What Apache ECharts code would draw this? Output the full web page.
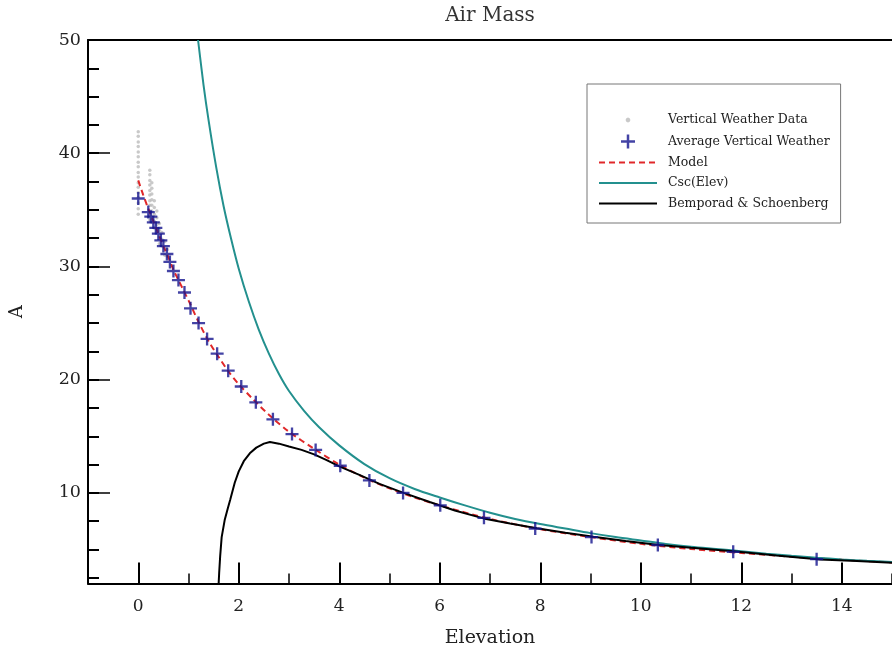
<!DOCTYPE html>
<html>
<head>
<meta charset="utf-8">
<script src="https://cdn.jsdelivr.net/npm/echarts@6/dist/echarts.min.js"></script>
<style>
  html, body { margin: 0; padding: 0; background: #fff; }
  #chart { width: 892px; height: 657px; }
</style>
</head>
<body>
<div id="chart"></div>
<script>
// Individual vertical weather samples (elevation in degrees, air mass A)
const weatherElev = [
  0.0, 0.0, 0.0, 0.0, 0.0, 0.0, 0.0, 0.0, 0.0, 0.0, 0.0, 0.0, 0.0, 0.0, 0.0, 0.0, 0.0,
  0.23, 0.23, 0.23, 0.23, 0.23, 0.23, 0.23, 0.23, 0.23, 0.23, 0.23,
  0.27, 0.27, 0.27, 0.27, 0.27, 0.27, 0.27, 0.27,
  0.32, 0.32, 0.32, 0.32, 0.32,
  0.37, 0.37, 0.37, 0.37,
  0.42, 0.42, 0.42, 0.42,
  0.47, 0.47, 0.47,
  0.53, 0.53, 0.53,
  0.58, 0.58
];
const weatherA = [
  41.9, 41.5, 41.0, 40.6, 40.1, 39.7, 39.2, 38.8, 38.3, 37.9, 37.4, 37.0, 36.5, 36.1, 35.6, 35.1, 34.6,
  38.5, 38.1, 37.6, 37.2, 36.7, 36.3, 35.8, 35.4, 34.9, 34.5, 34.1,
  37.4, 36.9, 36.4, 35.9, 35.4, 34.9, 34.4, 33.9,
  35.8, 35.2, 34.6, 34.0, 33.4,
  34.9, 34.3, 33.7, 33.1,
  33.8, 33.2, 32.6, 32.0,
  33.0, 32.4, 31.8,
  32.2, 31.6, 31.0,
  31.5, 30.9
];

// Binned averages
const avgElev = [0.0, 0.2, 0.25, 0.3, 0.35, 0.4, 0.45, 0.5, 0.57, 0.63, 0.7, 0.8, 0.92, 1.04, 1.2, 1.37, 1.57, 1.79,
  2.05, 2.34, 2.68, 3.06, 3.53, 4.02, 4.6, 5.27, 6.01, 6.88, 7.9, 9.02, 10.34, 11.84, 13.5];
const avgA = [36.0, 34.8, 34.4, 33.9, 33.4, 32.9, 32.3, 31.8, 31.1, 30.4, 29.6, 28.8, 27.7, 26.3, 25.0, 23.6, 22.3, 20.8,
  19.4, 18.0, 16.5, 15.2, 13.8, 12.4, 11.1, 10.0, 8.9, 7.8, 6.85, 6.1, 5.4, 4.8, 4.15];

// Fitted model
const modelElev = [0, 0.1, 0.2, 0.3, 0.4, 0.5, 0.6, 0.7, 0.8, 0.9, 1.0, 1.2, 1.4, 1.6, 1.8, 2.0, 2.3, 2.6, 3.0, 3.5,
  4.0, 4.5, 5.0, 5.5, 6.0, 7.0, 8.0, 9.0, 10.0, 11.0, 12.0, 13.0, 14.0, 15.0];
const modelA = [37.6, 36.3, 35.1, 34.0, 32.9, 31.8, 30.8, 29.7, 28.8, 27.9, 27.0, 25.1, 23.4, 22.0, 20.7, 19.6, 18.2, 16.9, 15.4, 13.9,
  12.5, 11.35, 10.4, 9.6, 8.9, 7.7, 6.8, 6.1, 5.5, 5.05, 4.7, 4.37, 4.1, 3.86];

// Plane-parallel approximation, csc(elevation)
const cscElev = [1.19, 1.3, 1.4, 1.55, 1.7, 1.85, 2.0, 2.2, 2.4, 2.6, 2.8, 3.0, 3.3, 3.6, 4.0, 4.5, 5.0, 5.5, 6.0, 6.5,
  7.0, 7.5, 8.0, 8.5, 9.0, 9.5, 10.0, 10.5, 11.0, 11.5, 12.0, 12.5, 13.0, 13.5, 14.0, 14.5, 15.0];
const cscA = [50.0, 46.0, 42.9, 38.8, 35.3, 32.4, 29.8, 26.9, 24.4, 22.3, 20.5, 19.0, 17.25, 15.8, 14.2, 12.55, 11.3, 10.35, 9.6, 8.9,
  8.25, 7.7, 7.25, 6.85, 6.45, 6.1, 5.8, 5.5, 5.25, 5.05, 4.85, 4.63, 4.45, 4.28, 4.13, 4.0, 3.9];

// Bemporad & Schoenberg formula
const bsElev = [1.6, 1.61, 1.63, 1.66, 1.72, 1.78, 1.83, 1.92, 2.0, 2.1, 2.22, 2.35, 2.5, 2.62, 2.8, 3.0, 3.25, 3.5, 3.75,
  4.0, 4.4, 4.8, 5.28, 5.8, 6.3, 6.87, 7.4, 7.93, 8.5, 9.06, 9.7, 10.32, 11.0, 11.84, 12.7, 13.57, 14.3, 15.0];
const bsA = [2.0, 2.9, 4.4, 6.1, 7.6, 8.6, 9.4, 10.9, 11.9, 12.8, 13.5, 14.0, 14.35, 14.5, 14.35, 14.1, 13.8, 13.4, 12.9,
  12.35, 11.6, 10.8, 10.0, 9.2, 8.45, 7.75, 7.3, 6.87, 6.48, 6.13, 5.75, 5.42, 5.15, 4.85, 4.48, 4.13, 3.98, 3.83];

const pairs = (xs, ys) => xs.map((x, i) => [x, ys[i]]);

const serif = 'DejaVu Serif';
const plusPath = 'path://M5.75,0h2.5v5.75h5.75v2.5h-5.75v5.75h-2.5v-5.75h-5.75v-2.5h5.75z';
// small dot centred in a 14x14 box so the legend icon stays tiny
const dotIcon = 'path://M0,0M14,14M7,4.6L8.7,5.3L9.4,7L8.7,8.7L7,9.4L5.3,8.7L4.6,7L5.3,5.3Z';
// line-only legend entries: hide the marker the line legend icon adds
const noMarker = { color: 'rgba(0,0,0,0)', borderColor: 'rgba(0,0,0,0)', borderWidth: 0 };

const chart = echarts.init(document.getElementById('chart'), null, { renderer: 'canvas' });

chart.setOption({
  animation: false,
  backgroundColor: '#fff',
  grid: { left: 88, right: 0, top: 40, bottom: 73.5, containLabel: false },
  graphic: [{
    type: 'text', x: 490, y: 16,
    style: { text: 'Air Mass', fontFamily: serif, fontSize: 20, fill: '#333', align: 'center', verticalAlign: 'middle' }
  }],
  legend: {
    orient: 'vertical', left: 587, top: 84,
    padding: [29, 11, 13, 11],
    itemWidth: 58, itemHeight: 14, itemGap: 7.5,
    backgroundColor: '#fff', borderColor: '#777', borderWidth: 1,
    selectedMode: false,
    textStyle: { fontFamily: serif, fontSize: 12.5, color: '#222', padding: [0, 0, 0, 6] },
    data: [
      { name: 'Vertical Weather Data', icon: dotIcon },
      { name: 'Average Vertical Weather' },
      { name: 'Model', itemStyle: noMarker },
      { name: 'Csc(Elev)', itemStyle: noMarker },
      { name: 'Bemporad & Schoenberg', itemStyle: noMarker }
    ]
  },
  xAxis: [
    {
      type: 'value', min: -1, max: 15, minInterval: 2, maxInterval: 2, position: 'bottom',
      axisLine: { show: true, onZero: false, lineStyle: { color: '#000', width: 2 } },
      axisTick: { show: true, inside: true, length: 21, lineStyle: { color: '#000', width: 2 } },
      axisLabel: { showMinLabel: false, showMaxLabel: false, margin: 15, fontFamily: serif, fontSize: 17, color: '#222' },
      splitLine: { show: false },
      name: 'Elevation', nameLocation: 'middle', nameGap: 45,
      nameTextStyle: { fontFamily: serif, fontSize: 19, color: '#222' }
    },
    {
      type: 'value', min: -1, max: 15, minInterval: 1, maxInterval: 1, position: 'bottom',
      axisLine: { show: false, onZero: false },
      axisTick: { show: true, inside: true, length: 10, lineStyle: { color: '#000', width: 1.5 } },
      axisLabel: { show: false }, splitLine: { show: false }
    },
    {
      type: 'value', min: -1, max: 15, position: 'top',
      axisLine: { show: true, onZero: false, lineStyle: { color: '#000', width: 2 } },
      axisTick: { show: false }, axisLabel: { show: false }, splitLine: { show: false }
    }
  ],
  yAxis: [
    {
      type: 'value', min: 2, max: 50, minInterval: 10, maxInterval: 10, position: 'left',
      axisLine: { show: true, onZero: false, lineStyle: { color: '#000', width: 2 } },
      axisTick: { show: true, inside: true, length: 22, lineStyle: { color: '#000', width: 1.5 } },
      axisLabel: { showMinLabel: false, margin: 7, fontFamily: serif, fontSize: 17.5, color: '#222' },
      splitLine: { show: false },
      name: 'A', nameLocation: 'middle', nameGap: 62, nameRotate: 90,
      nameTextStyle: { fontFamily: serif, fontSize: 18, color: '#222' }
    },
    {
      type: 'value', min: 2, max: 50, minInterval: 2.5, maxInterval: 2.5, position: 'left',
      axisLine: { show: false, onZero: false },
      axisTick: { show: true, inside: true, length: 11, lineStyle: { color: '#000', width: 2 } },
      axisLabel: { show: false }, splitLine: { show: false }
    }
  ],
  series: [
    {
      name: 'Vertical Weather Data', type: 'scatter', data: pairs(weatherElev, weatherA),
      symbol: 'circle', symbolSize: 3.5, itemStyle: { color: '#bcbcbc' }, z: 2
    },
    {
      name: 'Model', type: 'line', data: pairs(modelElev, modelA), symbol: 'none', smooth: 0.3,
      itemStyle: { color: '#e0282a' },
      lineStyle: { color: '#e0282a', width: 2, type: [6, 4] }, z: 3
    },
    {
      name: 'Csc(Elev)', type: 'line', data: pairs(cscElev, cscA), symbol: 'none', smooth: 0.3,
      itemStyle: { color: '#23908e' },
      lineStyle: { color: '#23908e', width: 2 }, z: 4
    },
    {
      name: 'Bemporad & Schoenberg', type: 'line', data: pairs(bsElev, bsA), symbol: 'none',
      itemStyle: { color: '#000' },
      lineStyle: { color: '#000', width: 2 }, z: 5
    },
    {
      name: 'Average Vertical Weather', type: 'scatter', data: pairs(avgElev, avgA),
      symbol: plusPath, symbolSize: 13, itemStyle: { color: '#14148f' }, z: 6
    }
  ]
});
</script>
</body>
</html>
